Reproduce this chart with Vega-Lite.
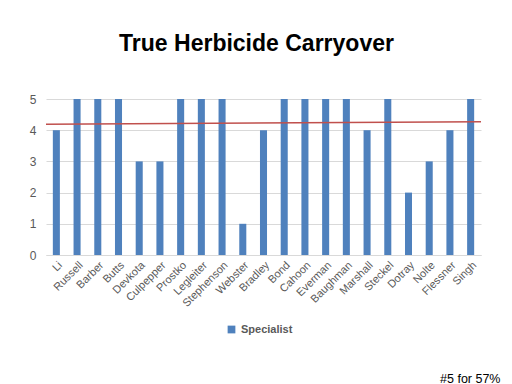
{
  "$schema": "https://vega.github.io/schema/vega-lite/v6.json",
  "width": 435,
  "height": 156,
  "autosize": "none",
  "padding": {"left": 46, "top": 99, "right": 31, "bottom": 129},
  "background": "white",
  "title": {
    "text": "True Herbicide Carryover",
    "fontSize": 23,
    "font": "Liberation Sans",
    "fontWeight": "bold",
    "color": "#000000",
    "offset": 37,
    "dx": -7
  },
  "datasets": {
    "bars": [
      {"name": "Li", "value": 4, "series": "Specialist"},
      {"name": "Russell", "value": 5, "series": "Specialist"},
      {"name": "Barber", "value": 5, "series": "Specialist"},
      {"name": "Butts", "value": 5, "series": "Specialist"},
      {"name": "Devkota", "value": 3, "series": "Specialist"},
      {"name": "Culpepper", "value": 3, "series": "Specialist"},
      {"name": "Prostko", "value": 5, "series": "Specialist"},
      {"name": "Legleiter", "value": 5, "series": "Specialist"},
      {"name": "Stephenson", "value": 5, "series": "Specialist"},
      {"name": "Webster", "value": 1, "series": "Specialist"},
      {"name": "Bradley", "value": 4, "series": "Specialist"},
      {"name": "Bond", "value": 5, "series": "Specialist"},
      {"name": "Cahoon", "value": 5, "series": "Specialist"},
      {"name": "Everman", "value": 5, "series": "Specialist"},
      {"name": "Baughman", "value": 5, "series": "Specialist"},
      {"name": "Marshall", "value": 4, "series": "Specialist"},
      {"name": "Steckel", "value": 5, "series": "Specialist"},
      {"name": "Dotray", "value": 2, "series": "Specialist"},
      {"name": "Nolte", "value": 3, "series": "Specialist"},
      {"name": "Flessner", "value": 4, "series": "Specialist"},
      {"name": "Singh", "value": 5, "series": "Specialist"}
    ],
    "trend": [
      {"t": 0, "v": 4.19},
      {"t": 1, "v": 4.27}
    ]
  },
  "layer": [
    {
      "data": {"name": "bars"},
      "mark": {"type": "bar"},
      "encoding": {
        "x": {
          "field": "name",
          "type": "nominal",
          "sort": null,
          "scale": {"paddingInner": 0.66, "paddingOuter": 0.33},
          "axis": {
            "title": "#5 for 57%",
            "titleFont": "Liberation Sans",
            "titleFontSize": 12.5,
            "titleFontWeight": "normal",
            "titleColor": "#000000",
            "titleAnchor": "end",
            "titleAlign": "right",
            "titleBaseline": "middle",
            "titleX": 454,
            "titleY": 123,
            "labelAngle": -45,
            "labelFont": "Liberation Sans",
            "labelFontSize": 11,
            "labelColor": "#595959",
            "labelPadding": 4,
            "ticks": false,
            "domainColor": "#D9D9D9",
            "grid": false
          }
        },
        "y": {
          "field": "value",
          "type": "quantitative",
          "scale": {"domain": [0, 5], "nice": false},
          "axis": {
            "title": null,
            "values": [0, 1, 2, 3, 4, 5],
            "labelOverlap": false,
            "labelFont": "Liberation Sans",
            "labelFontSize": 12,
            "labelColor": "#595959",
            "labelPadding": 10,
            "ticks": false,
            "domain": false,
            "gridColor": "#D9D9D9",
            "gridWidth": 1
          }
        },
        "color": {
          "field": "series",
          "type": "nominal",
          "scale": {"range": ["#4F81BD"]},
          "legend": {
            "title": null,
            "orient": "none",
            "legendX": 180,
            "legendY": 225,
            "symbolType": "square",
            "symbolSize": 60,
            "symbolOpacity": 1,
            "labelFont": "Liberation Sans",
            "labelFontSize": 11,
            "labelFontWeight": "bold",
            "labelColor": "#595959"
          }
        }
      }
    },
    {
      "data": {"name": "trend"},
      "mark": {"type": "line", "color": "#C0504D", "strokeWidth": 1.5},
      "encoding": {
        "x": {"field": "t", "type": "quantitative", "scale": {"domain": [0, 1], "nice": false}, "axis": null},
        "y": {
          "field": "v",
          "type": "quantitative",
          "axis": {
            "title": null,
            "values": [0, 1, 2, 3, 4, 5],
            "labelOverlap": false,
            "labelFont": "Liberation Sans",
            "labelFontSize": 12,
            "labelColor": "#595959",
            "labelPadding": 10,
            "ticks": false,
            "domain": false,
            "gridColor": "#D9D9D9",
            "gridWidth": 1
          }
        }
      }
    }
  ],
  "resolve": {"scale": {"x": "independent"}, "axis": {"x": "independent"}},
  "config": {"view": {"stroke": null}}
}
